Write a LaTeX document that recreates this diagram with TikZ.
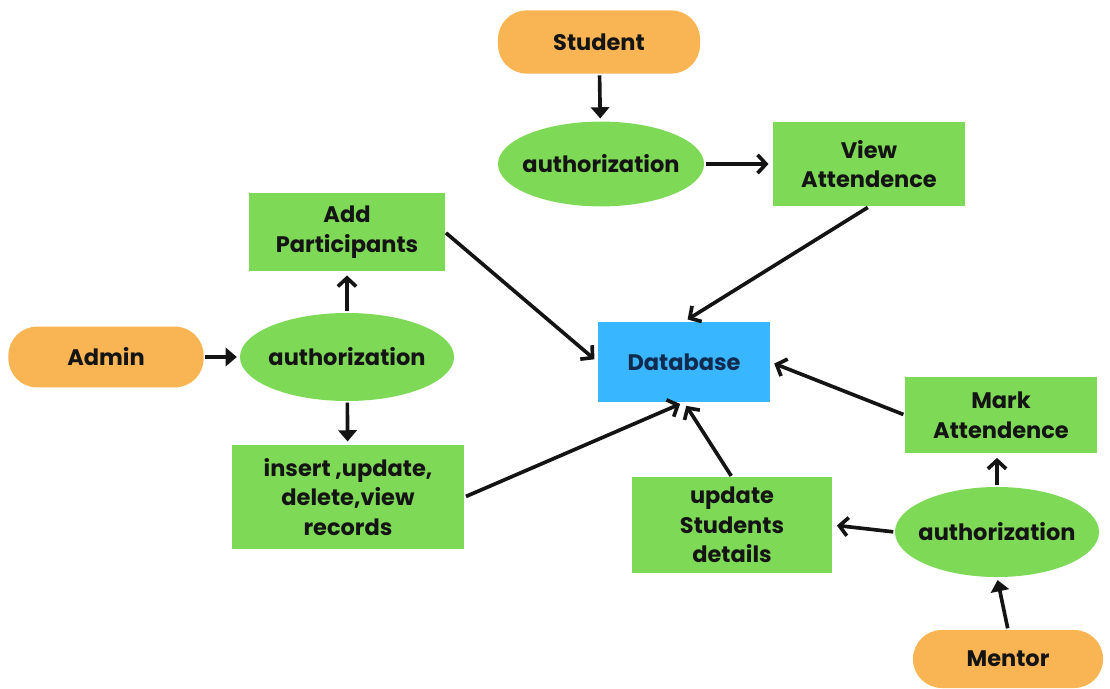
\documentclass[tikz,border=0pt]{standalone}
\usepackage{fontspec}
\setmainfont{Poppins}
\usepackage{tikz}
\usetikzlibrary{shapes.geometric,arrows.meta}
\definecolor{pillorange}{HTML}{F9B553}
\definecolor{boxgreen}{HTML}{7ED957}
\definecolor{dbblue}{HTML}{38B6FF}
\definecolor{dbtext}{HTML}{112A4E}
\definecolor{ink}{HTML}{141414}

\begin{document}
\begin{tikzpicture}[x=0.025cm,y=-0.025cm,
		font=\fontsize{16}{21}\selectfont\bfseries,
		actor/.style={rectangle,rounded corners=0.72cm,fill=pillorange,text=ink,
			minimum width=4.8cm,minimum height=1.5cm,inner sep=0pt},
		auth/.style={ellipse,fill=boxgreen,text=ink,inner xsep=-9pt,inner ysep=0pt},
		task/.style={rectangle,fill=boxgreen,text=ink,align=center,inner sep=0pt},
		store/.style={rectangle,fill=dbblue,text=dbtext,inner sep=0pt},
		arrs/.style={-{Triangle[length=8pt,width=13pt]},line width=2.6pt,ink,shorten >=2pt,shorten <=1pt},
		arr/.style={-{Straight Barb[length=6pt,width=13pt,line width=2.6pt]},line width=2.6pt,ink,shorten >=3pt,shorten <=1pt}]
		\useasboundingbox (0,0) rectangle (1110,689);
		% student side
		\node[actor,minimum width=5.05cm,minimum height=1.58cm] (student) at (599,42) {Student};
		\node[auth,minimum width=5.15cm,minimum height=2.12cm] (authS) at (601,164) {authorization};
		\node[task,minimum width=4.8cm,minimum height=2.12cm] (view) at (869,164) {View\\Attendence};
		% admin side
		\node[actor,minimum width=4.88cm,minimum height=1.52cm] (admin) at (106,357) {Admin};
		\node[auth,minimum width=5.35cm,minimum height=2.2cm] (authA) at (347,357) {authorization};
		\node[task,minimum width=4.88cm,minimum height=1.95cm] (add) at (347,232) {Add\\Participants};
		\node[task,minimum width=5.82cm,minimum height=2.62cm] (records) at (348,497) {insert ,update,\\delete,view\\records};
		% database
		\node[store,minimum width=4.3cm,minimum height=2cm] (db) at (684,362) {Database};
		% mentor side
		\node[actor,minimum width=4.75cm,minimum height=1.45cm] (mentor) at (1008,659) {Mentor};
		\node[auth,minimum width=5.1cm,minimum height=2.25cm] (authM) at (997,532) {authorization};
		\node[task,minimum width=4.8cm,minimum height=1.92cm] (mark) at (1001,415) {Mark\\Attendence};
		\node[task,minimum width=5.02cm,minimum height=2.38cm] (details) at (732,525) {update\\Students\\details};

		\draw[arrs] (student) -- (authS);
		\draw[arr] (authS) -- (view);
		\draw[arrs] (admin) -- (authA);
		\draw[arr] (authA) -- (add);
		\draw[arrs] (authA) -- (records);
		\draw[arrs] (mentor.north) -- (authM.south);
		\draw[arr] (authM.north) -- (authM.north |- mark.south);
		\draw[arr] (authM.west) -- (details.east);
		% into the database
		\draw[arr] (add.east) -- (db.west);
		\draw[arr] (view.south) -- (db.north);
		\draw[arr] (records.east) -- (db.south);
		\draw[arr] (details.north) -- (db.south);
		\draw[arr] (mark.west) -- (db.east);
	\end{tikzpicture}
\end{document}
